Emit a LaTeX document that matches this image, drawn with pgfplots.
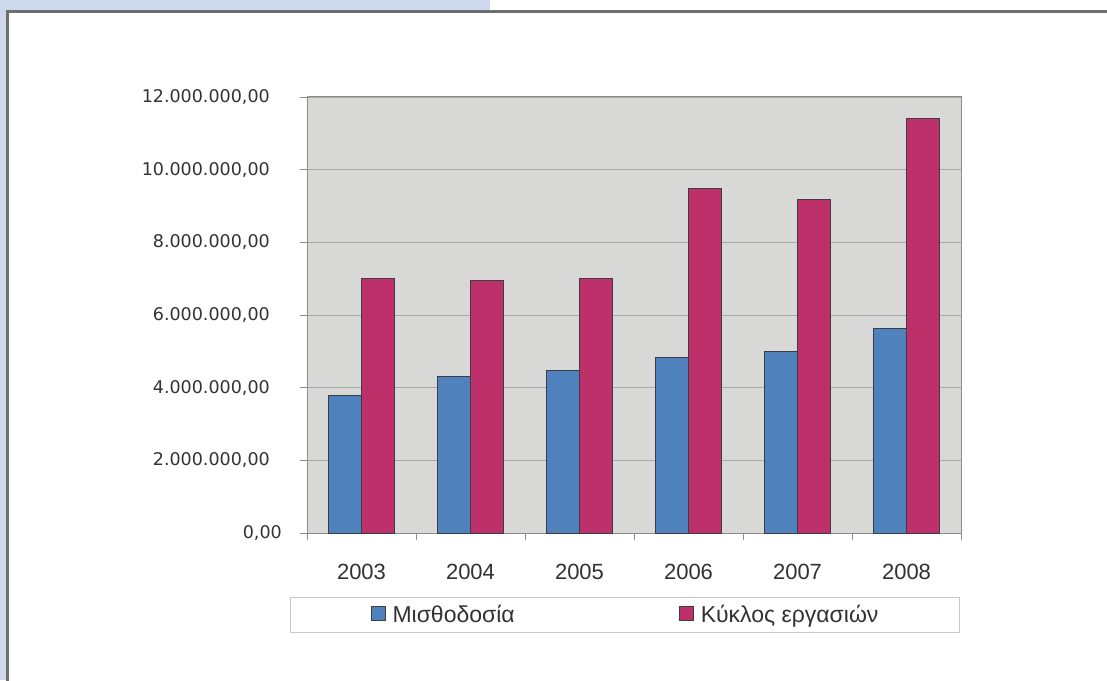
\documentclass[border=0pt]{standalone}
\usepackage{fontspec}
\setmainfont{Liberation Sans}
\newfontfamily\dejavu{DejaVu Sans}
\usepackage{pgfplots}
\pgfplotsset{compat=1.18}
\definecolor{framebg}{RGB}{205,217,236}
\definecolor{framegrey}{RGB}{110,110,110}
\definecolor{plotbg}{RGB}{216,216,214}
\definecolor{axisgrey}{RGB}{140,140,140}
\definecolor{gridgrey}{RGB}{168,168,168}
\definecolor{labelgrey}{RGB}{50,50,50}
\definecolor{legendgrey}{RGB}{200,200,200}
\definecolor{barblue}{RGB}{79,129,189}
\definecolor{barred}{RGB}{190,48,105}
\definecolor{bardraw}{RGB}{60,60,70}
\begin{document}
\begin{tikzpicture}[x=1pt,y=1pt]
\useasboundingbox (0,0) rectangle (1107,680);
\begin{scope}
\clip (0,0) rectangle (1107,680);
\fill[framebg] (0,0) rectangle (490,680);
\filldraw[fill=white, draw=framegrey, line width=2.6pt] (7.2,-20) rectangle (1130,668.7);
\end{scope}
\begin{axis}[
  at={(307pt,147pt)}, anchor=south west,
  scale only axis, width=654pt, height=436pt,
  ybar=0pt, bar width=33pt,
  xmin=-0.5, xmax=5.5, ymin=0, ymax=12000000,
  xtick={0,1,2,3,4,5},
  xticklabels={2003,2004,2005,2006,2007,2008},
  minor xtick={-0.5,0.5,1.5,2.5,3.5,4.5,5.5},
  major x tick style={draw=none},
  ytick={0,2000000,4000000,6000000,8000000,10000000,12000000},
  yticklabels={{0,00\hspace*{-12pt}},{2.000.000,00},{4.000.000,00},{6.000.000,00},{8.000.000,00},{10.000.000,00},{12.000.000,00}},
  scaled y ticks=false,
  tick align=outside, tick pos=left,
  major tick length=7pt, minor tick length=7pt,
  tick style={draw=axisgrey, line width=0.8pt},
  ymajorgrids, grid style={draw=gridgrey, line width=0.9pt},
  axis line style={draw=axisgrey, line width=1pt},
  axis background/.style={fill=plotbg},
  yticklabel style={font=\dejavu\fontsize{17.5}{20}\selectfont, text=labelgrey, inner sep=0pt, xshift=-30pt},
  xticklabel style={font=\fontsize{22}{25}\selectfont, text=labelgrey, inner sep=0pt, yshift=-24pt},
  legend columns=2,
  legend style={at={(0.4855,-0.188)}, anchor=center, draw=legendgrey, line width=1pt, fill=white,
    font=\fontsize{23}{26}\selectfont, text=labelgrey,
    inner xsep=80.5pt, inner ysep=8pt,
    nodes={inner sep=0pt},
    /tikz/column 1/.style={column sep=7pt},
    /tikz/column 3/.style={column sep=7pt},
    /tikz/column 2/.style={column sep=164pt}},
]
\addplot[fill=barblue, draw=bardraw, line width=1pt,
  legend image code/.code={\draw[fill=barblue, draw=bardraw, line width=1pt] (0pt,-6pt) rectangle (14pt,8pt);}]
  coordinates {(0,3780000) (1,4310000) (2,4470000) (3,4840000) (4,4990000) (5,5620000)};
\addplot[fill=barred, draw=bardraw, line width=1pt,
  legend image code/.code={\draw[fill=barred, draw=bardraw, line width=1pt] (0pt,-6pt) rectangle (14pt,8pt);}]
  coordinates {(0,7000000) (1,6950000) (2,7000000) (3,9480000) (4,9170000) (5,11420000)};
\legend{Μισθοδοσία, Κύκλος εργασιών}
\end{axis}
\end{tikzpicture}
\end{document}
